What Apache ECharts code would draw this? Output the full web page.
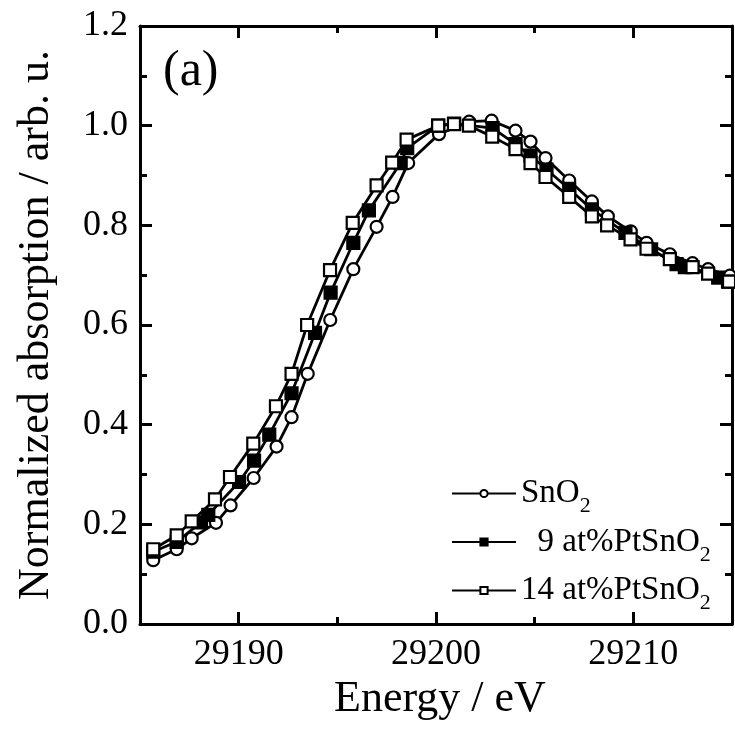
<!DOCTYPE html>
<html><head><meta charset="utf-8">
<script src="https://cdn.jsdelivr.net/npm/echarts@6/dist/echarts.min.js"></script>
<style>html,body{margin:0;padding:0;background:#fff}#c{width:735px;height:733px}</style>
</head><body><div id="c"></div>
<script>
// SnO2 (open circles)
const energySnO2 = [29185.67,29186.86,29187.62,29188.85,29189.59,29190.76,29191.92,29192.68,29193.50,29194.64,29195.81,29196.99,29197.80,29198.59,29200.15,29201.68,29202.82,29204.03,29204.79,29205.55,29206.75,29207.90,29208.71,29209.87,29210.67,29211.85,29213.00,29213.79,29214.89];
const absSnO2    = [0.128,0.150,0.172,0.203,0.238,0.293,0.356,0.415,0.502,0.610,0.712,0.797,0.857,0.925,0.983,1.008,1.010,0.990,0.968,0.935,0.890,0.848,0.818,0.788,0.765,0.742,0.724,0.712,0.699];
// 9 at%PtSnO2 (filled squares)
const energyPt9 = [29185.67,29186.86,29188.09,29188.46,29190.02,29190.78,29191.55,29192.68,29193.87,29194.66,29195.81,29196.60,29198.21,29198.54,29200.11,29200.92,29202.87,29204.03,29204.79,29205.60,29206.75,29207.90,29209.60,29210.90,29212.19,29212.61,29214.30,29214.80];
const absPt9    = [0.145,0.165,0.204,0.219,0.285,0.328,0.380,0.463,0.584,0.665,0.765,0.830,0.925,0.955,1.000,1.004,0.995,0.963,0.940,0.912,0.873,0.832,0.785,0.752,0.722,0.716,0.695,0.687];
// 14 at%PtSnO2 (open squares)
const energyPt14 = [29185.67,29186.86,29187.62,29188.80,29189.56,29190.74,29191.89,29192.68,29193.47,29194.63,29195.78,29196.99,29197.78,29198.51,29200.11,29200.91,29201.67,29202.85,29204.03,29204.79,29205.55,29206.75,29207.90,29208.67,29209.86,29210.67,29211.85,29213.00,29213.79,29214.85];
const absPt14    = [0.150,0.178,0.206,0.250,0.295,0.362,0.437,0.502,0.600,0.710,0.805,0.880,0.926,0.972,1.000,1.003,1.000,0.978,0.953,0.925,0.897,0.857,0.818,0.800,0.772,0.753,0.732,0.716,0.703,0.687];

const seriesNames = ['SnO2', '9 at%PtSnO2', '14 at%PtSnO2'];
const xMajorTicks = [29190, 29200, 29210];
const xMinorTicks = [29195, 29205];
const xMin = 29185, xMax = 29215;
const yMin = 0, yMax = 1.2, yStep = 0.2;

const FONT = '"Liberation Serif", "Times New Roman", serif';
const pairs = (xs, ys) => xs.map((x, i) => [x, ys[i]]);

function xAxisDef(pos, ticks, len, main) {
  return {
    type: 'value', min: xMin, max: xMax, position: pos,
    axisLine: { show: main, onZero: false, lineStyle: { color: '#000', width: 3 } },
    axisTick: { show: true, inside: true, length: len, customValues: ticks, lineStyle: { color: '#000', width: 3 } },
    axisLabel: { show: main && pos === 'bottom', customValues: ticks, formatter: v => String(v),
      fontFamily: FONT, fontSize: 36, color: '#000', margin: 13 },
    splitLine: { show: false },
    name: (main && pos === 'bottom') ? 'Energy / eV' : '',
    nameLocation: 'middle', nameGap: 46,
    nameTextStyle: { fontFamily: FONT, fontSize: 44, color: '#000', padding: [0, 0, 0, 8] }
  };
}
function yAxisDef(pos) {
  return {
    type: 'value', min: yMin, max: yMax, interval: yStep, position: pos,
    axisLine: { show: true, onZero: false, lineStyle: { color: '#000', width: 3 } },
    axisTick: { show: true, inside: true, length: 12, lineStyle: { color: '#000', width: 3 } },
    minorTick: { show: true, splitNumber: 2, length: 7, lineStyle: { color: '#000', width: 3 } },
    axisLabel: { show: pos === 'left', formatter: v => v.toFixed(1), fontFamily: FONT, fontSize: 36, color: '#000', margin: 12 },
    splitLine: { show: false },
    name: pos === 'left' ? 'Normalized absorption / arb. u.' : '',
    nameLocation: 'middle', nameGap: 82,
    nameTextStyle: { fontFamily: FONT, fontSize: 44, color: '#000' }
  };
}
function lineSeries(name, data, symbol, fill) {
  return {
    name, type: 'line', data, symbol, symbolSize: 12,
    xAxisIndex: 0, yAxisIndex: 0,
    lineStyle: { color: '#000', width: 2.8 },
    itemStyle: { color: fill, borderColor: '#000', borderWidth: 2.2 },
    emphasis: { disabled: true }, animation: false, clip: false
  };
}

const chart = echarts.init(document.getElementById('c'), null, { renderer: 'canvas' });
chart.setOption({
  backgroundColor: '#fff',
  animation: false,
  grid: { left: 140, right: 3, top: 26, bottom: 109, containLabel: false },
  title: { text: '(a)', left: 158, top: 42, textStyle: { fontFamily: FONT, fontSize: 50, fontWeight: 'normal', color: '#000' } },
  xAxis: [
    xAxisDef('bottom', xMajorTicks, 12, true),
    xAxisDef('bottom', xMinorTicks, 7, false),
    xAxisDef('top', xMajorTicks, 12, true),
    xAxisDef('top', xMinorTicks, 7, false)
  ],
  yAxis: [yAxisDef('left'), yAxisDef('right')],
  legend: {
    orient: 'vertical', left: 446, top: 472, itemGap: 8,
    itemWidth: 64, itemHeight: 9,
    data: seriesNames,
    formatter: name => {
      if (name === 'SnO2') return '{a|SnO}{s|2}';
      if (name === '9 at%PtSnO2') return '{a|  9 at%PtSnO}{s|2}';
      return '{a|14 at%PtSnO}{s|2}';
    },
    textStyle: {
      rich: {
        a: { fontFamily: FONT, fontSize: 33, color: '#000' },
        s: { fontFamily: FONT, fontSize: 22, color: '#000', padding: [26, 0, 0, 0] }
      }
    }
  },
  series: [
    lineSeries(seriesNames[0], pairs(energySnO2, absSnO2), 'circle', '#fff'),
    lineSeries(seriesNames[1], pairs(energyPt9, absPt9), 'rect', '#000'),
    lineSeries(seriesNames[2], pairs(energyPt14, absPt14), 'rect', '#fff')
  ]
});
</script>
</body></html>
